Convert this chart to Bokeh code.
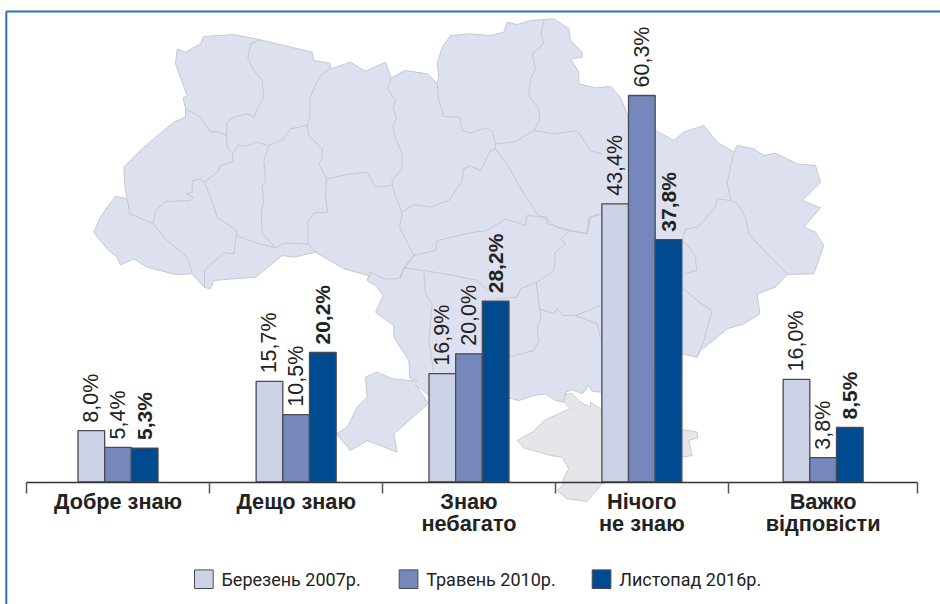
from math import pi
from bokeh.plotting import figure
from bokeh.models import Range1d, LinearAxis, FixedTicker
from bokeh.core.properties import value
from bokeh.embed import file_html
from bokeh.resources import INLINE

# ---------- data ----------
CATEGORIES = ["Добре знаю", "Дещо знаю", "Знаю\nнебагато", "Нічого\nне знаю", "Важко\nвідповісти"]
BAND_EDGES = [26, 209, 382.3, 554.7, 728, 917.3]
SERIES_NAMES = ["Березень 2007р.", "Травень 2010р.", "Листопад 2016р."]
MAR_2007 = [8.0, 15.7, 16.9, 43.4, 16.0]
MAY_2010 = [5.4, 10.5, 20.0, 60.3, 3.8]
NOV_2016 = [5.3, 20.2, 28.2, 37.8, 8.5]

# ---------- style ----------
BAR_COLORS = ["#ccd2e6", "#7688bb", "#004a90"]
BAR_LINE = "#4a4a55"
TEXT = "#222222"
MAP_FILL = "#dde0ee"
MAP_LINE = "#c6c8cf"
CRIMEA_FILL = "#e5e6e9"
CRIMEA_LINE = "#cbcccf"
FRAME = "#3070b0"
PX_PER_PCT = 6.41
BASE_PX = 481.5
BAR_W = 26.67

def z(ox, oy, pts):
    return [(ox + a / 3, oy + b / 3) for a, b in pts]

Z1, Z2, Z3, Z4, Z5, Z6 = (0, 0), (470, 0), (0, 300), (470, 300), (370, 180), (500, 360)

OUTLINE = (
    z(*Z1, [(280, 695), (300, 650), (320, 620), (345, 588), (380, 595), (372, 550), (370, 500), (430, 440), (520, 365),
            (555, 350), (555, 325), (548, 292), (560, 285), (525, 190), (530, 145), (555, 155), (600, 130), (610, 108),
            (700, 102), (780, 118), (850, 135), (935, 155), (940, 180), (988, 188), (990, 205), (1050, 185), (1095, 212),
            (1155, 185), (1172, 232), (1215, 210), (1280, 220), (1310, 248), (1315, 230), (1310, 190), (1325, 140),
            (1350, 105), (1410, 100)])
    + z(*Z2, [(60, 105), (100, 95), (110, 65), (140, 72), (180, 60), (250, 55), (295, 85), (300, 120), (335, 155),
              (335, 170), (300, 175), (325, 215), (325, 250), (375, 262), (420, 258), (450, 290), (470, 340), (475, 385),
              (555, 390), (610, 420), (640, 395), (700, 375), (740, 425), (790, 455), (800, 435), (850, 445), (880, 465),
              (915, 458), (980, 490), (1035, 495), (1050, 545), (995, 600), (1050, 622), (1000, 680), (1035, 695),
              (1060, 735), (1030, 820), (950, 822), (915, 860), (860, 880)])
    + z(*Z4, [(868, 40), (820, 70), (770, 85), (740, 110), (690, 150), (680, 170), (635, 160)])
    + z(*Z6, [(300, 95), (275, 92), (265, 75), (245, 100), (215, 88), (195, 95), (190, 125), (165, 120), (135, 100),
              (100, 105), (55, 120), (25, 112)])
    + z(*Z5, [(176, 645), (135, 612), (174, 669)])
    + z(*Z3, [(1180, 400), (1190, 455), (1100, 420), (1050, 450), (1008, 400), (1040, 380), (1070, 320), (1100, 290),
              (1095, 230), (1130, 215), (1175, 235), (1250, 242)])
    + z(*Z5, [(118, 592), (115, 540), (70, 470), (70, 435), (15, 395), (38, 345), (15, 315)])
    + z(*Z1, [(1100, 840), (1105, 825), (1030, 805), (1005, 790), (945, 755), (880, 770), (845, 765), (765, 830),
              (700, 835), (640, 840), (630, 865), (610, 860), (575, 820), (525, 822), (440, 800), (400, 775), (360, 793),
              (350, 770), (325, 750), (295, 715)])
)

CRIMEA = z(*Z6, [(195, 100), (190, 125), (210, 145), (195, 150), (135, 178), (95, 215), (50, 240), (70, 262), (150, 285),
                 (185, 290), (205, 325), (190, 350), (188, 372), (170, 390), (200, 415), (260, 422), (305, 370),
                 (545, 290), (575, 285), (565, 240), (592, 232), (590, 215), (545, 207), (304, 148), (270, 125),
                 (270, 140), (240, 125), (215, 100)])

BORDERS = [
    z(*Z1, p) for p in [
        [(780, 118), (750, 130), (742, 175), (760, 210), (785, 240), (790, 290), (770, 325), (760, 350), (740, 340),
         (700, 350), (680, 365), (678, 405)],
        [(555, 325), (600, 350), (630, 395), (650, 392), (678, 405), (680, 440), (697, 460)],
        [(988, 205), (960, 225), (940, 265), (928, 295), (928, 345), (920, 375)],
        [(920, 375), (870, 385), (850, 415), (805, 435), (765, 425), (740, 437), (712, 435), (697, 460)],
        [(697, 460), (695, 485), (660, 495), (650, 515), (612, 545)],
        [(612, 545), (598, 535), (575, 542), (575, 575), (558, 580), (578, 590), (570, 600), (495, 603), (465, 630),
         (458, 670)],
        [(380, 595), (388, 640), (400, 645), (458, 670), (495, 715), (530, 745), (560, 770), (572, 810), (575, 820)],
        [(612, 860), (612, 810), (670, 757), (700, 760), (708, 705)],
        [(612, 545), (630, 590), (650, 650), (680, 670), (708, 690), (708, 705)],
        [(708, 705), (760, 725), (825, 742), (850, 728), (922, 730), (945, 755)],
        [(805, 435), (790, 480), (795, 540), (785, 560), (790, 600), (782, 640), (785, 700), (825, 742)],
        [(920, 375), (925, 405), (965, 445), (965, 475), (955, 490), (978, 535)],
        [(978, 535), (975, 590), (982, 635), (940, 637), (922, 665), (922, 730)],
        [(978, 535), (1040, 522), (1100, 515), (1125, 560), (1175, 555)],
        [(1172, 232), (1162, 265), (1185, 300), (1178, 320), (1188, 355), (1178, 375), (1182, 405), (1205, 460),
         (1205, 505), (1175, 540), (1175, 555)],
        [(1175, 555), (1190, 600), (1205, 635), (1197, 680), (1240, 765)],
        [(1240, 765), (1210, 805), (1195, 835), (1150, 835), (1110, 815), (1100, 840)],
        [(1205, 635), (1240, 612), (1290, 620), (1345, 600), (1385, 540), (1390, 505), (1410, 495)],
        [(1310, 248), (1315, 300), (1330, 348), (1378, 350), (1385, 390), (1410, 398)],
    ]
] + [
    z(*Z2, p) for p in [
        [(0, 497), (30, 510), (60, 450), (75, 445)],
        [(0, 398), (45, 382), (65, 392), (75, 430), (130, 425), (190, 390), (250, 400), (320, 390), (360, 450),
         (395, 460)],
        [(75, 430), (75, 445), (115, 500), (155, 570), (200, 640), (270, 685), (350, 700), (355, 650), (394, 640)],
        [(220, 60), (212, 100), (220, 130), (185, 160), (195, 205), (180, 235), (175, 285), (205, 325), (208, 360),
         (190, 390)],
        [(790, 460), (778, 510), (770, 550), (780, 595), (800, 610), (825, 650), (835, 700), (880, 750), (950, 820)],
        [(780, 600), (740, 595), (735, 620), (700, 660), (680, 680), (645, 685), (635, 720)],
        [(635, 720), (660, 745), (675, 770), (678, 810), (640, 820)],
        [(640, 865), (680, 900)],
    ]
] + [
    z(*Z4, [(680, 0), (725, 30), (700, 120), (680, 170)]),
] + [
    z(*Z5, p) for p in [
        [(130, 225), (195, 210), (200, 180), (310, 155), (350, 150), (405, 115), (465, 135), (470, 105), (530, 110),
         (530, 130), (600, 150), (570, 175), (585, 190), (555, 215), (550, 270), (500, 305), (450, 325), (440, 350),
         (380, 355)],
        [(130, 225), (100, 262), (90, 295)],
        [(100, 262), (160, 270), (250, 285), (320, 300), (350, 330)],
        [(160, 272), (165, 340), (185, 370), (180, 420), (175, 480), (190, 575)],
        [(497, 305), (505, 370), (512, 410), (500, 440), (505, 480), (490, 510), (415, 530)],
        [(505, 385), (550, 400), (560, 385), (580, 405), (615, 405), (690, 375)],
        [(615, 405), (680, 430), (690, 470)],
        [(600, 150), (650, 160), (660, 110), (695, 100)],
    ]
]

# ---------- figure ----------
p = figure(width=940, height=604, output_backend="svg", toolbar_location=None,
           x_range=Range1d(0, 940),
           y_range=Range1d(-(604 - BASE_PX) / PX_PER_PCT, BASE_PX / PX_PER_PCT),
           min_border=0, min_border_left=0, min_border_right=0, min_border_top=0, min_border_bottom=0,
           outline_line_color=None, x_axis_type=None, y_axis_type=None, margin=0)
p.xgrid.visible = False
p.ygrid.visible = False
p.extra_y_ranges = {"px": Range1d(604, 0)}

# frame
p.line([5.8, 5.8], [11, 604], y_range_name="px", line_color=FRAME, line_width=2)
p.line([5.8, 940], [11, 11], y_range_name="px", line_color=FRAME, line_width=2)

# map
p.patch([a for a, _ in OUTLINE], [b for _, b in OUTLINE], y_range_name="px",
        fill_color=MAP_FILL, line_color=MAP_LINE, line_width=1, line_join="round")
p.multi_line([[a for a, _ in l] for l in BORDERS], [[b for _, b in l] for l in BORDERS], y_range_name="px",
             line_color=MAP_LINE, line_width=1, line_join="round")
p.patch([a for a, _ in CRIMEA], [b for _, b in CRIMEA], y_range_name="px",
        fill_color=CRIMEA_FILL, line_color=CRIMEA_LINE, line_width=1, line_join="round")

# bars and value labels
centers = [(BAND_EDGES[i] + BAND_EDGES[i + 1]) / 2 for i in range(len(CATEGORIES))]
fmt = lambda v: f"{v:.1f}%".replace(".", ",")
for k, (vals, color) in enumerate(zip([MAR_2007, MAY_2010, NOV_2016], BAR_COLORS)):
    xs = [c + (k - 1) * BAR_W for c in centers]
    p.vbar(x=xs, top=vals, bottom=0, width=BAR_W, fill_color=color, line_color=BAR_LINE, line_width=1.3)
    p.text(x=xs, y=vals, text=[fmt(v) for v in vals], angle=pi / 2, y_offset=-8,
           text_align="left", text_baseline="middle", text_color=TEXT,
           text_font=value("Liberation Sans"), text_font_size="21px" if k == 2 else "21.5px",
           text_font_style="bold" if k == 2 else "normal")

# axis on the zero line
axis = LinearAxis(fixed_location=0, ticker=FixedTicker(ticks=BAND_EDGES), bounds=(BAND_EDGES[0], BAND_EDGES[-1]),
                  axis_line_color="#333333", axis_line_width=1.5,
                  major_tick_line_color="#555555", major_tick_line_width=1.5,
                  major_tick_in=0, major_tick_out=11, minor_tick_line_color=None,
                  major_label_text_color=None)
p.add_layout(axis, "below")

# category labels
p.text(x=centers, y=[488] * 5, text=CATEGORIES, y_range_name="px", text_align="center", text_baseline="top",
       text_color=TEXT, text_font=value("Liberation Sans"), text_font_size="21.7px", text_font_style="bold",
       text_line_height=0.88)

# legend
LEG_X = [194, 398.7, 591.7]
LEG_Y = 578.7
for lx, name, color in zip(LEG_X, SERIES_NAMES, BAR_COLORS):
    p.quad(left=[lx], right=[lx + 18.7], top=[LEG_Y - 9.3], bottom=[LEG_Y + 9.3], y_range_name="px",
           fill_color=color, line_color=BAR_LINE, line_width=1)
    p.text(x=[lx + 27], y=[LEG_Y], text=[name], y_range_name="px", text_align="left", text_baseline="middle",
           text_color=TEXT, text_font=value("Roboto"), text_font_size="18px")

open("out.html", "w").write(file_html(p, INLINE))
